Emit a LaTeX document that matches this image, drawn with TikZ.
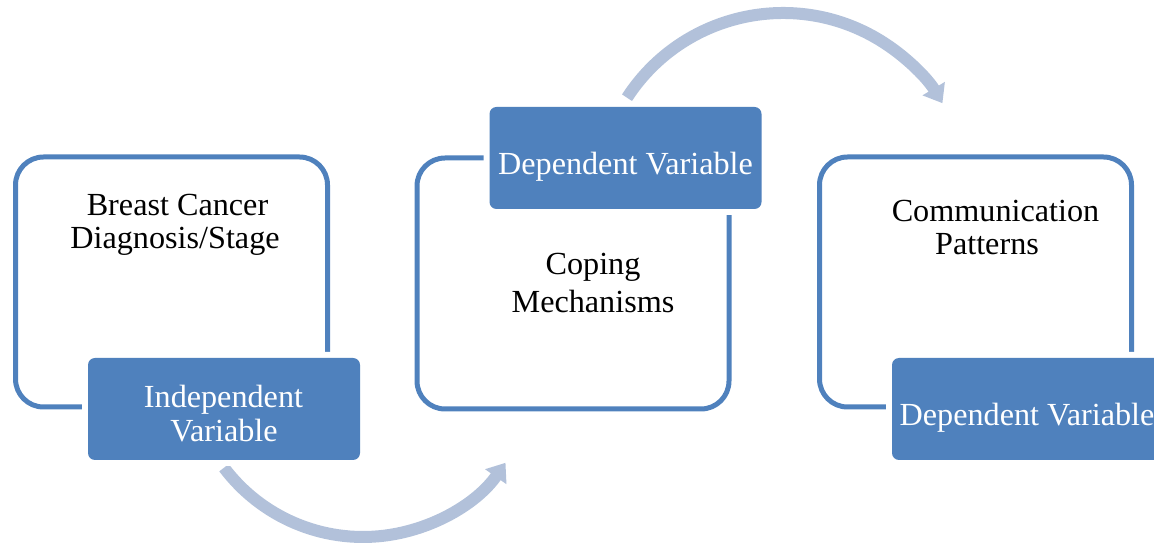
\documentclass[tikz,border=0pt]{standalone}
\usepackage{fontspec}
\setmainfont{Liberation Serif}
\usetikzlibrary{arrows.meta}
\definecolor{accent}{HTML}{4F81BD}
\definecolor{arrowc}{HTML}{B2C1DA}
\begin{document}
\begin{tikzpicture}[x=1pt,y=1pt,
  outline/.style={draw=accent, line width=5pt, rounded corners=28pt,
    minimum width=312pt, minimum height=250pt, inner sep=0pt},
  labelbox/.style={fill=accent, rounded corners=7pt, minimum width=272pt,
    minimum height=102pt, inner sep=0pt, preaction={draw=white, line width=12pt}},
  txt/.style={font=\fontsize{32.2}{34}\selectfont, anchor=base, inner sep=0pt, text=black},
  wtxt/.style={txt, text=white},
  flow/.style={draw=arrowc, line width=12pt, -{Triangle[width=25pt,length=17pt]}}]
\useasboundingbox (0,0) rectangle (1154,546);
\clip (0,0) rectangle (1154,546);
% arrows
\coordinate (a1s) at (224,78.3);
\coordinate (a2s) at (627,448.3);
\draw[flow] (a1s) arc[start angle=-143, end angle=-35, radius=174];
\draw[flow] (a2s) arc[start angle=147, end angle=31, radius=186];
% outline boxes
\node[outline] (b1) at (171.5,264) {};
\node[outline, minimum height=251pt] (b2) at (573,262.5) {};
\node[outline] (b3) at (975.5,264) {};
% label boxes
\node[labelbox] (l1) at (224,137) {};
\node[labelbox] (l2) at (625.5,388) {};
\node[labelbox] (l3) at (1028,137) {};
% texts
\node[txt] (t1a) at (177.5,330) {Breast Cancer};
\node[txt] (t1b) at (175,297) {Diagnosis/Stage};
\node[wtxt] (u1a) at (223.5,138) {Independent};
\node[wtxt] (u1b) at (224,104) {Variable};
\node[wtxt] (u2) at (625.5,371) {Dependent Variable};
\node[txt] (t2a) at (593,271) {Coping};
\node[txt] (t2b) at (593,233) {Mechanisms};
\node[txt] (t3a) at (995.5,324) {Communication};
\node[txt] (t3b) at (987,291) {Patterns};
\node[wtxt] (u3) at (1027,120) {Dependent Variable};
\end{tikzpicture}
\end{document}
